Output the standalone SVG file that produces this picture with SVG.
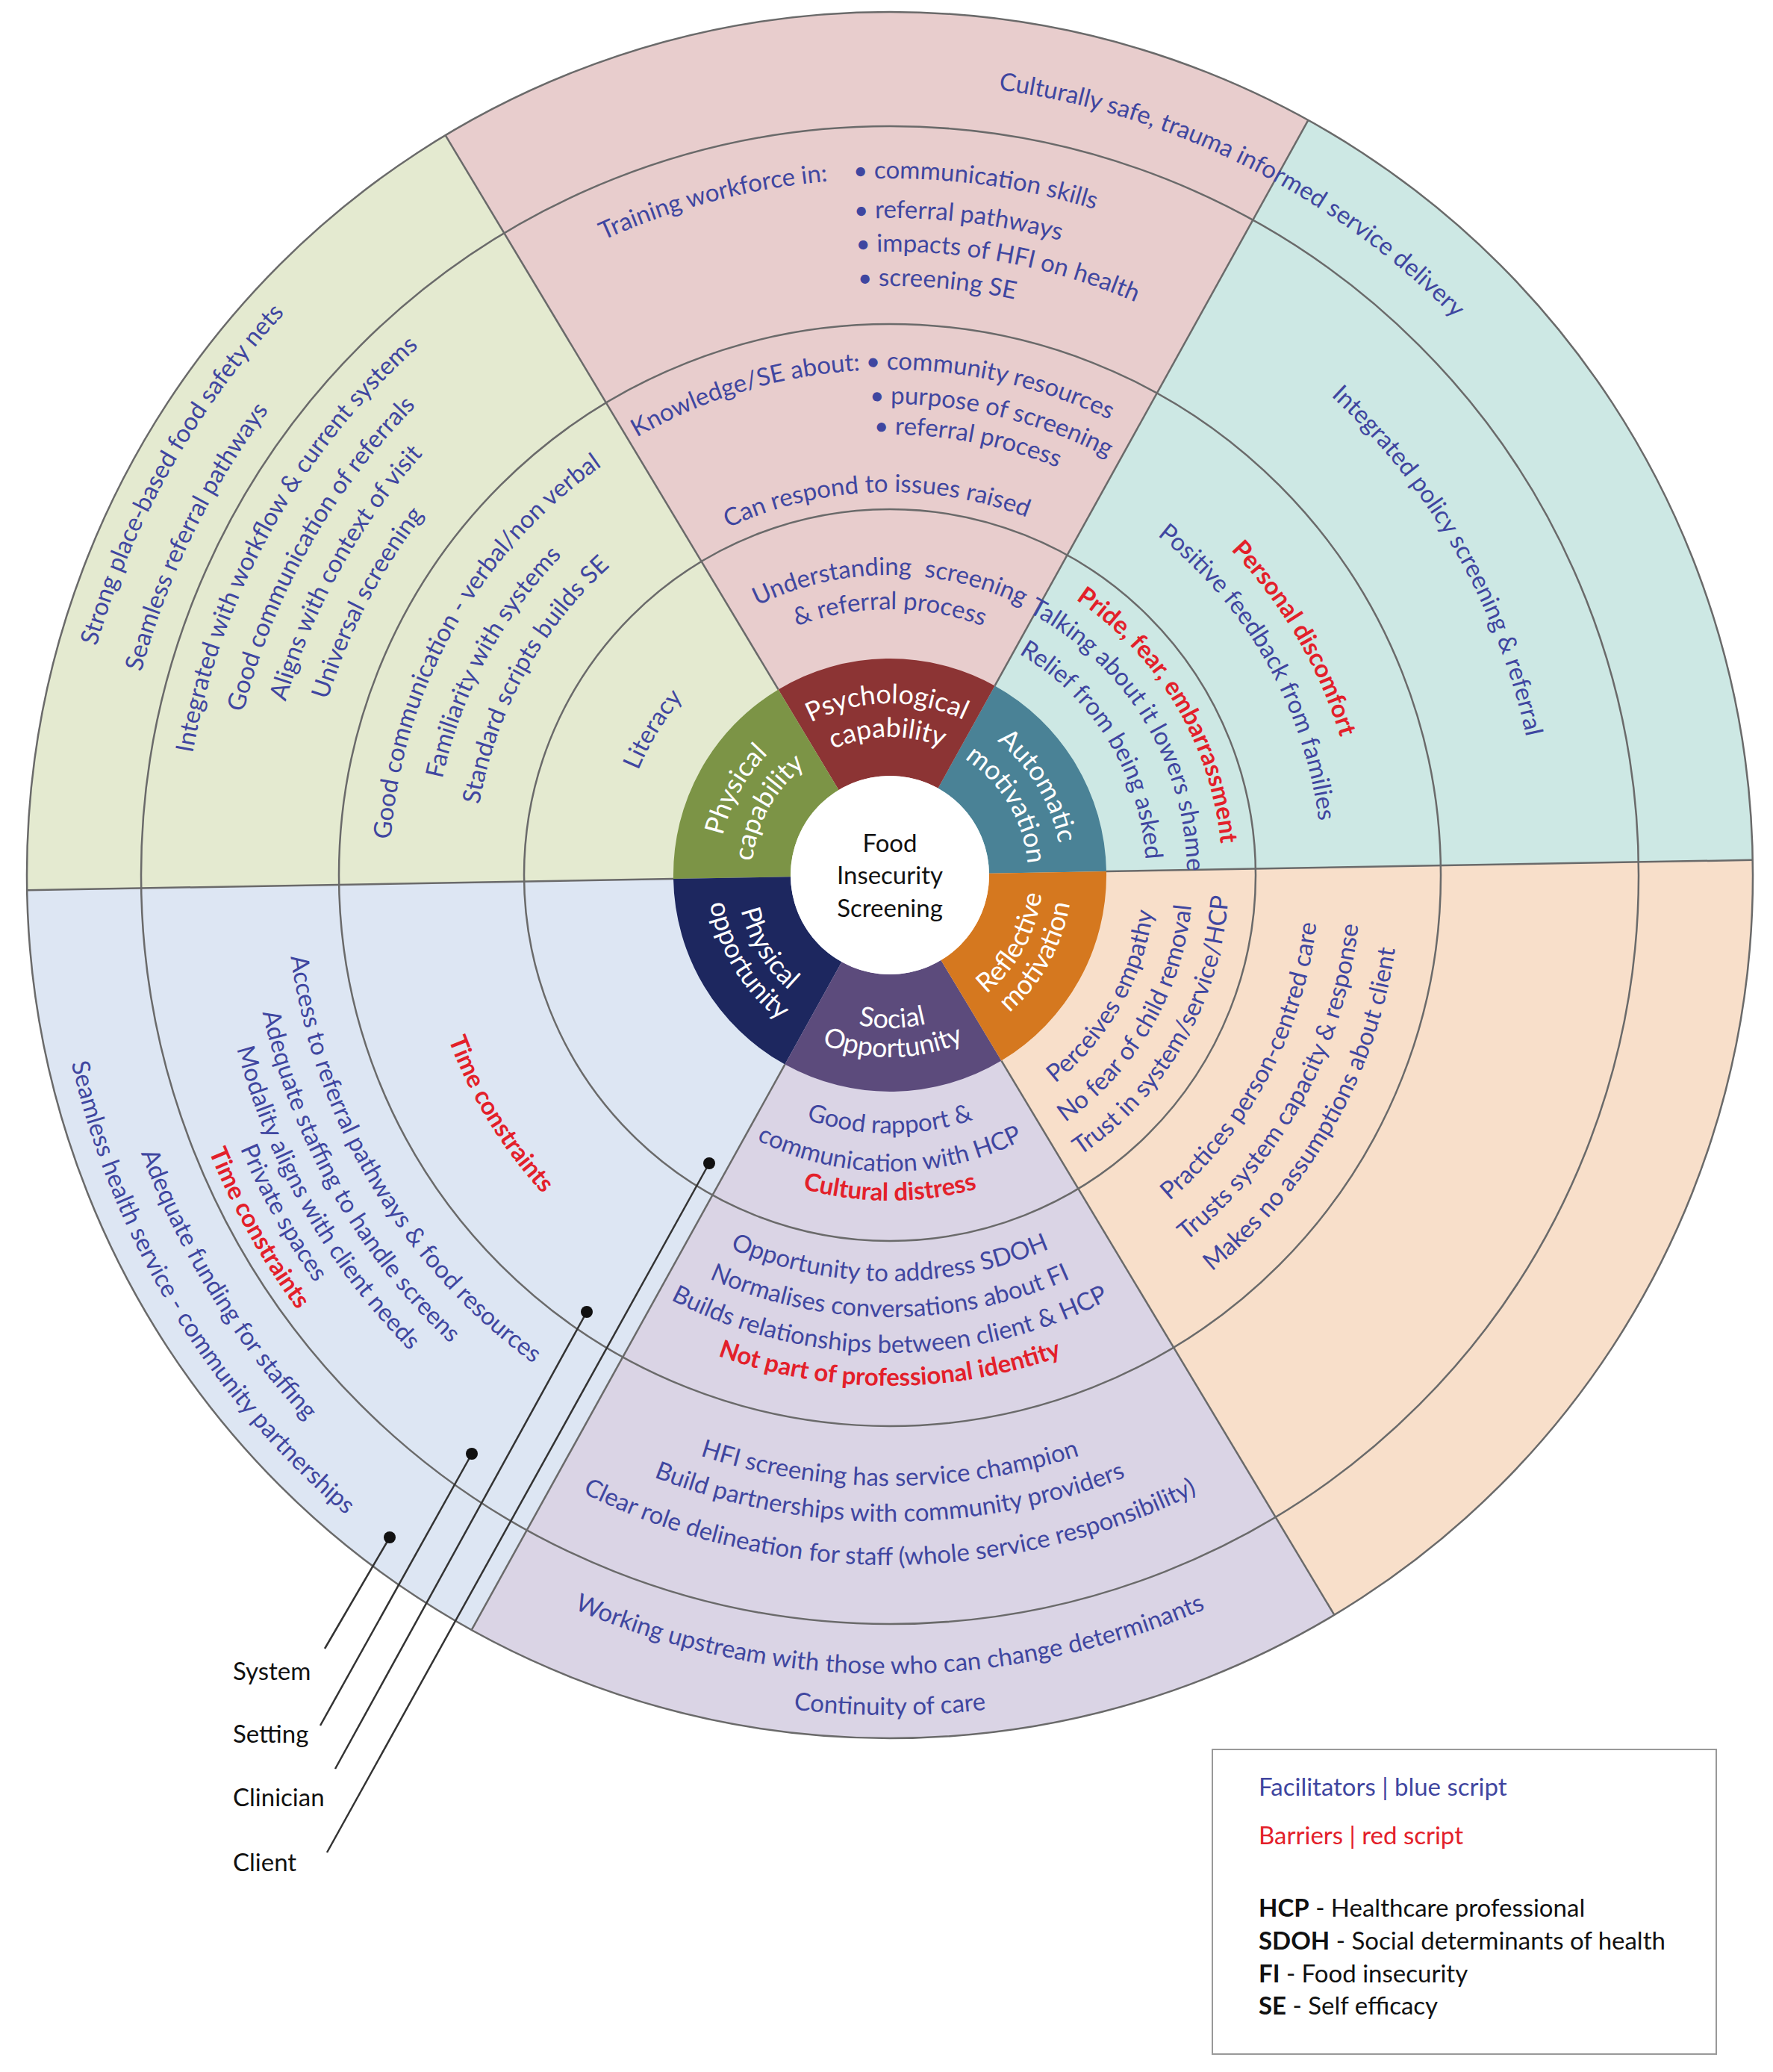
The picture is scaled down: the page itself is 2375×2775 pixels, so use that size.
<svg xmlns="http://www.w3.org/2000/svg" width="2375" height="2775" viewBox="0 0 2375 2775">
<style>
.t{font-family:Lato,"Liberation Sans",sans-serif;font-size:33px;fill:#3f46a0}
.m{text-anchor:middle}
.r{fill:#e3202a;font-weight:bold}
.w{fill:#fff;font-size:36px}
.k{fill:#111}
.ring{fill:none;stroke:#6a6a6a;stroke-width:2.5}
.ln{stroke:#6a6a6a;stroke-width:2.5}
.lead{stroke:#333;stroke-width:2.5}
</style>
<defs>
<path id="c1106" d="M1192 2278A1106 1106 0 1 1 1192 66A1106 1106 0 1 1 1192 2278"/>
<path id="c1039" d="M1192 2211A1039 1039 0 1 1 1192 133A1039 1039 0 1 1 1192 2211"/>
<path id="c948" d="M1192 2120A948 948 0 1 1 1192 224A948 948 0 1 1 1192 2120"/>
<path id="c893" d="M1192 2065A893 893 0 1 1 1192 279A893 893 0 1 1 1192 2065"/>
<path id="c842" d="M1192 2014A842 842 0 1 1 1192 330A842 842 0 1 1 1192 2014"/>
<path id="c789" d="M1192 1961A789 789 0 1 1 1192 383A789 789 0 1 1 1192 1961"/>
<path id="c670" d="M1192 1842A670 670 0 1 1 1192 502A670 670 0 1 1 1192 1842"/>
<path id="c613" d="M1192 1785A613 613 0 1 1 1192 559A613 613 0 1 1 1192 1785"/>
<path id="c558" d="M1192 1730A558 558 0 1 1 1192 614A558 558 0 1 1 1192 1730"/>
<path id="c365" d="M1192 1537A365 365 0 1 1 1192 807A365 365 0 1 1 1192 1537"/>
<path id="c872" d="M1192 2044A872 872 0 1 1 1192 300A872 872 0 1 1 1192 2044"/>
<path id="c631" d="M1192 1803A631 631 0 1 1 1192 541A631 631 0 1 1 1192 1803"/>
<path id="c579" d="M1192 1751A579 579 0 1 1 1192 593A579 579 0 1 1 1192 1751"/>
<path id="c445" d="M1192 1617A445 445 0 1 1 1192 727A445 445 0 1 1 1192 1617"/>
<path id="c398" d="M1192 1570A398 398 0 1 1 1192 774A398 398 0 1 1 1192 1570"/>
<path id="c343" d="M1192 1515A343 343 0 1 1 1192 829A343 343 0 1 1 1192 1515"/>
<path id="c402" d="M1192 1574A402 402 0 1 1 1192 770A402 402 0 1 1 1192 1574"/>
<path id="c356" d="M1192 1528A356 356 0 1 1 1192 816A356 356 0 1 1 1192 1528"/>
<path id="c513" d="M1192 1685A513 513 0 1 1 1192 659A513 513 0 1 1 1192 1685"/>
<path id="c677" d="M1192 1849A677 677 0 1 1 1192 495A677 677 0 1 1 1192 1849"/>
<path id="c933" d="M1192 2105A933 933 0 1 1 1192 239A933 933 0 1 1 1192 2105"/>
<path id="c590" d="M1192 1762A590 590 0 1 1 1192 582A590 590 0 1 1 1192 1762"/>
<path id="c880" d="M1192 2052A880 880 0 1 1 1192 292A880 880 0 1 1 1192 2052"/>
<path id="c835" d="M1192 2007A835 835 0 1 1 1192 337A835 835 0 1 1 1192 2007"/>
<path id="c1062" d="M1192 2234A1062 1062 0 1 1 1192 110A1062 1062 0 1 1 1192 2234"/>
<path id="c230" d="M1192 1402A230 230 0 1 1 1192 942A230 230 0 1 1 1192 1402"/>
<path id="c185" d="M1192 1357A185 185 0 1 1 1192 987A185 185 0 1 1 1192 1357"/>
<path id="w346" d="M1192 826A346 346 0 1 0 1192 1518A346 346 0 1 0 1192 826"/>
<path id="w397" d="M1192 775A397 397 0 1 0 1192 1569A397 397 0 1 0 1192 775"/>
<path id="w436" d="M1192 736A436 436 0 1 0 1192 1608A436 436 0 1 0 1192 736"/>
<path id="w544" d="M1192 628A544 544 0 1 0 1192 1716A544 544 0 1 0 1192 628"/>
<path id="w592" d="M1192 580A592 592 0 1 0 1192 1764A592 592 0 1 0 1192 580"/>
<path id="w640" d="M1192 532A640 640 0 1 0 1192 1812A640 640 0 1 0 1192 532"/>
<path id="w684" d="M1192 488A684 684 0 1 0 1192 1856A684 684 0 1 0 1192 488"/>
<path id="w818" d="M1192 354A818 818 0 1 0 1192 1990A818 818 0 1 0 1192 354"/>
<path id="w866" d="M1192 306A866 866 0 1 0 1192 2038A866 866 0 1 0 1192 306"/>
<path id="w924" d="M1192 248A924 924 0 1 0 1192 2096A924 924 0 1 0 1192 248"/>
<path id="w1070" d="M1192 102A1070 1070 0 1 0 1192 2242A1070 1070 0 1 0 1192 102"/>
<path id="w1125" d="M1192 47A1125 1125 0 1 0 1192 2297A1125 1125 0 1 0 1192 47"/>
<path id="w984" d="M1192 188A984 984 0 1 0 1192 2156A984 984 0 1 0 1192 188"/>
<path id="w944" d="M1192 228A944 944 0 1 0 1192 2116A944 944 0 1 0 1192 228"/>
<path id="w905" d="M1192 267A905 905 0 1 0 1192 2077A905 905 0 1 0 1192 267"/>
<path id="w860" d="M1192 312A860 860 0 1 0 1192 2032A860 860 0 1 0 1192 312"/>
<path id="w810" d="M1192 362A810 810 0 1 0 1192 1982A810 810 0 1 0 1192 362"/>
<path id="w631" d="M1192 541A631 631 0 1 0 1192 1803A631 631 0 1 0 1192 541"/>
<path id="w356" d="M1192 816A356 356 0 1 0 1192 1528A356 356 0 1 0 1192 816"/>
<path id="w406" d="M1192 766A406 406 0 1 0 1192 1578A406 406 0 1 0 1192 766"/>
<path id="w454" d="M1192 718A454 454 0 1 0 1192 1626A454 454 0 1 0 1192 718"/>
<path id="w575" d="M1192 597A575 575 0 1 0 1192 1747A575 575 0 1 0 1192 597"/>
<path id="w205" d="M1192 967A205 205 0 1 0 1192 1377A205 205 0 1 0 1192 967"/>
<path id="w244" d="M1192 928A244 244 0 1 0 1192 1416A244 244 0 1 0 1192 928"/>
</defs>
<rect width="2375" height="2775" fill="#fff"/>

<g id="sectors">
<path d="M1192 1172L2347.8 1151.8A1156 1156 0 0 0 1752.4 160.9Z" fill="#cde8e4"/>
<path d="M1192 1172L1752.4 160.9A1156 1156 0 0 0 596.6 181.1Z" fill="#e8cdcd"/>
<path d="M1192 1172L596.6 181.1A1156 1156 0 0 0 36.2 1192.2Z" fill="#e4ead0"/>
<path d="M1192 1172L36.2 1192.2A1156 1156 0 0 0 631.6 2183.1Z" fill="#dde6f3"/>
<path d="M1192 1172L631.6 2183.1A1156 1156 0 0 0 1787.4 2162.9Z" fill="#dad4e5"/>
<path d="M1192 1172L1787.4 2162.9A1156 1156 0 0 0 2347.8 1151.8Z" fill="#f8dfca"/>
</g>

<g id="connectors">
<circle class="ring" cx="1192" cy="1172" r="490"/>
<circle class="ring" cx="1192" cy="1172" r="738"/>
<circle class="ring" cx="1192" cy="1172" r="1003"/>
<circle class="ring" cx="1192" cy="1172" r="1156"/>
<line class="ln" x1="1482" y1="1166.9" x2="2347.8" y2="1151.8"/>
<line class="ln" x1="1332.6" y1="918.4" x2="1752.4" y2="160.9"/>
<line class="ln" x1="1042.6" y1="923.4" x2="596.6" y2="181.1"/>
<line class="ln" x1="902" y1="1177.1" x2="36.2" y2="1192.2"/>
<line class="ln" x1="1051.4" y1="1425.6" x2="631.6" y2="2183.1"/>
<line class="ln" x1="1341.4" y1="1420.6" x2="1787.4" y2="2162.9"/>
<line class="lead" x1="435" y1="2208" x2="522" y2="2059"/>
<line class="lead" x1="429" y1="2311" x2="632" y2="1947"/>
<line class="lead" x1="449" y1="2369" x2="786" y2="1757"/>
<line class="lead" x1="438" y1="2481" x2="950" y2="1558"/>
<circle cx="522" cy="2059" r="8" fill="#111"/>
<circle cx="632" cy="1947" r="8" fill="#111"/>
<circle cx="786" cy="1757" r="8" fill="#111"/>
<circle cx="950" cy="1558" r="8" fill="#111"/>
</g>

<g id="core">
<path d="M1482 1166.9A290 290 0 0 0 1332.6 918.4L1256.5 1055.7A133 133 0 0 1 1325 1169.7Z" fill="#4a8296"/>
<path d="M1332.6 918.4A290 290 0 0 0 1042.6 923.4L1123.5 1058A133 133 0 0 1 1256.5 1055.7Z" fill="#8c3434"/>
<path d="M1042.6 923.4A290 290 0 0 0 902 1177.1L1059 1174.3A133 133 0 0 1 1123.5 1058Z" fill="#7c9446"/>
<path d="M902 1177.1A290 290 0 0 0 1051.4 1425.6L1127.5 1288.3A133 133 0 0 1 1059 1174.3Z" fill="#1d275f"/>
<path d="M1051.4 1425.6A290 290 0 0 0 1341.4 1420.6L1260.5 1286A133 133 0 0 1 1127.5 1288.3Z" fill="#5c4b7c"/>
<path d="M1341.4 1420.6A290 290 0 0 0 1482 1166.9L1325 1169.7A133 133 0 0 1 1260.5 1286Z" fill="#d5781f"/>
<circle cx="1192" cy="1172" r="133" fill="#fff"/>
<text class="t m k" x="1192" y="1141" font-size="34">Food</text>
<text class="t m k" x="1192" y="1184" font-size="34">Insecurity</text>
<text class="t m k" x="1192" y="1228" font-size="34">Screening</text>
<text class="t m w"><textPath href="#c230" startOffset="49.72%">Psychological</textPath></text>
<text class="t m w"><textPath href="#c185" startOffset="49.72%">capability</textPath></text>
<text class="t m w"><textPath href="#c230" startOffset="66.39%">Automatic</textPath></text>
<text class="t m w"><textPath href="#c185" startOffset="66.39%">motivation</textPath></text>
<text class="t m w"><textPath href="#c230" startOffset="33.06%">Physical</textPath></text>
<text class="t m w"><textPath href="#c185" startOffset="33.06%">capability</textPath></text>
<text class="t m w"><textPath href="#w205" startOffset="50.28%">Social</textPath></text>
<text class="t m w"><textPath href="#w244" startOffset="50.28%">Opportunity</textPath></text>
<text class="t m w"><textPath href="#w205" startOffset="66.94%">Reflective</textPath></text>
<text class="t m w"><textPath href="#w244" startOffset="66.94%">motivation</textPath></text>
<text class="t m w"><textPath href="#w205" startOffset="33.61%">Physical</textPath></text>
<text class="t m w"><textPath href="#w244" startOffset="33.61%">opportunity</textPath></text>
</g>

<g id="psychological">
<text class="t m"><textPath href="#c402" startOffset="50%">Understanding&#160; screening</textPath></text>
<text class="t m"><textPath href="#c356" startOffset="50%">&amp; referral process</textPath></text>
<text class="t m"><textPath href="#c513" startOffset="49.44%">Can respond to issues raised</textPath></text>
<text class="t m"><textPath href="#c677" startOffset="45.36%">Knowledge/SE about:</textPath></text>
<text class="t"><textPath href="#c677" startOffset="49.25%">• community resources</textPath></text>
<text class="t"><textPath href="#c631" startOffset="49.33%">• purpose of screening</textPath></text>
<text class="t"><textPath href="#c590" startOffset="49.44%">• referral process</textPath></text>
<text class="t m"><textPath href="#c933" startOffset="45.92%">Training workforce in:</textPath></text>
<text class="t"><textPath href="#c933" startOffset="49.17%">• communication skills</textPath></text>
<text class="t"><textPath href="#c880" startOffset="49.14%">• referral pathways</textPath></text>
<text class="t"><textPath href="#c835" startOffset="49.14%">• impacts of HFI on health</textPath></text>
<text class="t"><textPath href="#c789" startOffset="49.14%">• screening SE</textPath></text>
<text class="t" font-size="37"><textPath href="#c1062" startOffset="52.19%">Culturally safe, trauma informed service delivery</textPath></text>
</g>

<g id="automatic">
<text class="t m"><textPath href="#c872" startOffset="66.72%">Integrated policy screening &amp; referral</textPath></text>
<text class="t m r"><textPath href="#c631" startOffset="66.58%">Personal discomfort</textPath></text>
<text class="t m"><textPath href="#c579" startOffset="66.81%">Positive feedback from families</textPath></text>
<text class="t m r"><textPath href="#c445" startOffset="66.47%">Pride, fear, embarrassment</textPath></text>
<text class="t m"><textPath href="#c398" startOffset="66.25%">Talking about it lowers shame</textPath></text>
<text class="t m"><textPath href="#c343" startOffset="66.22%">Relief from being asked</textPath></text>
</g>

<g id="physical-capability">
<text class="t m"><textPath href="#c1106" startOffset="33.19%">Strong place-based food safety nets</textPath></text>
<text class="t m"><textPath href="#c1039" startOffset="32.22%">Seamless referral pathways</textPath></text>
<text class="t m"><textPath href="#c948" startOffset="33.08%">Integrated with workflow &amp; current systems</textPath></text>
<text class="t m"><textPath href="#c893" startOffset="33.17%">Good communication of referrals</textPath></text>
<text class="t m"><textPath href="#c842" startOffset="33.06%">Aligns with context of visit</textPath></text>
<text class="t m"><textPath href="#c789" startOffset="32.64%">Universal screening</textPath></text>
<text class="t m"><textPath href="#c670" startOffset="33.19%">Good communication - verbal/non verbal</textPath></text>
<text class="t m"><textPath href="#c613" startOffset="32.83%">Familiarity with systems</textPath></text>
<text class="t m"><textPath href="#c558" startOffset="33.00%">Standard scripts builds SE</textPath></text>
<text class="t m"><textPath href="#c365" startOffset="33.78%">Literacy</textPath></text>
</g>

<g id="physical-opportunity">
<text class="t m"><textPath href="#w1125" startOffset="33.69%">Seamless health service - community partnerships</textPath></text>
<text class="t m"><textPath href="#w1070" startOffset="33.81%">Adequate funding for staffing</textPath></text>
<text class="t m r"><textPath href="#w984" startOffset="33.11%">Time constraints</textPath></text>
<text class="t m"><textPath href="#w944" startOffset="33.08%">Private spaces</textPath></text>
<text class="t m"><textPath href="#w905" startOffset="33.28%">Modality aligns with client needs</textPath></text>
<text class="t m"><textPath href="#w860" startOffset="33.22%">Adequate staffing to handle screens</textPath></text>
<text class="t m"><textPath href="#w810" startOffset="33.56%">Access to referral pathways &amp; food resources</textPath></text>
<text class="t m r"><textPath href="#w631" startOffset="33.75%">Time constraints</textPath></text>
</g>

<g id="social-opportunity">
<text class="t m"><textPath href="#w346" startOffset="50%">Good rapport &amp;</textPath></text>
<text class="t m"><textPath href="#w397" startOffset="50%">communication with HCP</textPath></text>
<text class="t m r"><textPath href="#w436" startOffset="50%">Cultural distress</textPath></text>
<text class="t m"><textPath href="#w544" startOffset="50%">Opportunity to address SDOH</textPath></text>
<text class="t m"><textPath href="#w592" startOffset="50%">Normalises conversations about FI</textPath></text>
<text class="t m"><textPath href="#w640" startOffset="50%">Builds relationships between client &amp; HCP</textPath></text>
<text class="t m r"><textPath href="#w684" startOffset="50%">Not part of professional identity</textPath></text>
<text class="t m"><textPath href="#w818" startOffset="50%">HFI screening has service champion</textPath></text>
<text class="t m"><textPath href="#w866" startOffset="50%">Build partnerships with community providers</textPath></text>
<text class="t m"><textPath href="#w924" startOffset="50%">Clear role delineation for staff (whole service responsibility)</textPath></text>
<text class="t m"><textPath href="#w1070" startOffset="50%">Working upstream with those who can change determinants</textPath></text>
<text class="t m"><textPath href="#w1125" startOffset="50%">Continuity of care</textPath></text>
</g>

<g id="reflective">
<text class="t m"><textPath href="#w356" startOffset="66.75%">Perceives empathy</textPath></text>
<text class="t m"><textPath href="#w406" startOffset="66.61%">No fear of child removal</textPath></text>
<text class="t m"><textPath href="#w454" startOffset="66.75%">Trust in system/service/HCP</textPath></text>
<text class="t m"><textPath href="#w575" startOffset="67.25%">Practices person-centred care</textPath></text>
<text class="t m"><textPath href="#w631" startOffset="67.08%">Trusts system capacity &amp; response</textPath></text>
<text class="t m"><textPath href="#w684" startOffset="66.78%">Makes no assumptions about client</textPath></text>
</g>

<g id="levels">
<text class="t k" x="312" y="2250">System</text>
<text class="t k" x="312" y="2334">Setting</text>
<text class="t k" x="312" y="2419">Clinician</text>
<text class="t k" x="312" y="2506">Client</text>
</g>

<g id="legend">
<rect x="1624" y="2343" width="675" height="408" fill="#fff" stroke="#999" stroke-width="2"/>
<text class="t" x="1686" y="2405">Facilitators | blue script</text>
<text class="t" x="1686" y="2470" fill="#e3202a" style="fill:#e3202a">Barriers | red script</text>
<text class="t k" x="1686" y="2567"><tspan font-weight="bold">HCP</tspan> - Healthcare professional</text>
<text class="t k" x="1686" y="2611"><tspan font-weight="bold">SDOH</tspan> - Social determinants of health</text>
<text class="t k" x="1686" y="2655"><tspan font-weight="bold">FI</tspan> - Food insecurity</text>
<text class="t k" x="1686" y="2698"><tspan font-weight="bold">SE</tspan> - Self efficacy</text>
</g>
</svg>
